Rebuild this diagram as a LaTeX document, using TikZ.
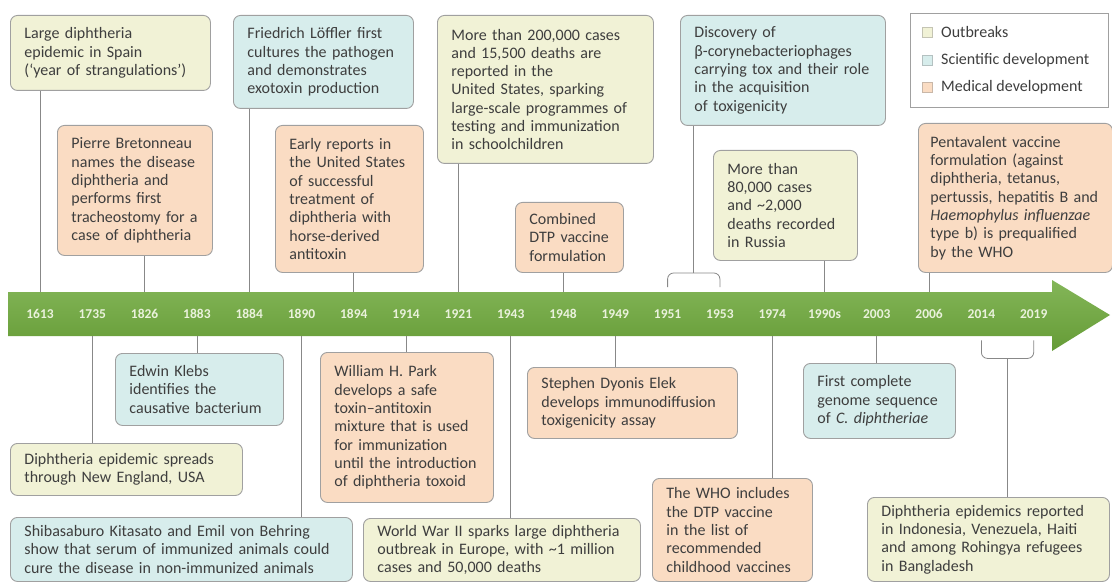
\documentclass[tikz,border=0pt]{standalone}
\usepackage{fontspec}
\setmainfont{Carlito}
\usepackage{xcolor}
\usetikzlibrary{calc}
\definecolor{outfill}{HTML}{F1F2D6}
\definecolor{scifill}{HTML}{D7EDEC}
\definecolor{medfill}{HTML}{FADCC3}
\definecolor{boxline}{HTML}{A0A0A0}
\definecolor{txtgray}{HTML}{3E3E3E}
\definecolor{bargreen}{HTML}{6EA93B}
\definecolor{yeartxt}{HTML}{EAF2DC}
\tikzset{
    event/.style={draw=boxline, line width=0.9pt, rounded corners=7pt, anchor=north west,
        align=left, inner xsep=14pt, inner ysep=3pt, text=txtgray,
        font=\fontsize{16}{18.3}\selectfont},
    outbreak/.style={event, fill=outfill},
    science/.style={event, fill=scifill},
    medical/.style={event, fill=medfill},
    boxsize/.style 2 args={minimum width=#1, minimum height=#2, text width=#1-28},
    link/.style={draw=boxline!85!black, line width=0.8pt},
    yearlbl/.style={text=yeartxt, font=\fontsize{13.5}{15}\selectfont\bfseries,
        minimum height=44, inner sep=0pt, anchor=north}
}
\begin{document}
\begin{tikzpicture}[x=1pt,y=-1pt]
    \useasboundingbox (0,0) rectangle (1112,583);
    \fill[white] (0,0) rectangle (1112,583);
    \shade[top color=bargreen!85!white, bottom color=bargreen!92!black]
        (8,292) -- (1052,292) -- (1052,280) -- (1110,315) -- (1052,351) -- (1052,336) -- (8,336) -- cycle;
    \foreach \yr [count=\i from 0] in {1613,1735,1826,1883,1884,1890,1894,1914,1921,1943,1948,1949,1951,1953,1974,1990s,2003,2006,2014,2019}
        \node[yearlbl] (y\yr) at (40+52.3*\i,292) {\yr};

    \node[outbreak, boxsize={200}{75}] (b1613) at (10,15) {Large diphtheria\\epidemic in Spain\\(‘year of strangulations’)};
    \node[science, boxsize={180}{93}] (b1884) at (233,15) {Friedrich Löffler first\\cultures the pathogen\\and demonstrates\\exotoxin production};
    \node[outbreak, boxsize={216}{148}] (b1921) at (437,15) {More than 200,000 cases\\and 15,500 deaths are\\reported in the\\United States, sparking\\large-scale programmes of\\testing and immunization\\in schoolchildren};
    \node[science, boxsize={205}{110}] (b1951) at (680,15) {Discovery of\\β-corynebacteriophages\\carrying tox and their role\\in the acquisition\\of toxigenicity};
    \node[medical, boxsize={155}{130}] (b1826) at (57,125) {Pierre Bretonneau\\names the disease\\diphtheria and\\performs first\\tracheostomy for a\\case of diphtheria};
    \node[medical, boxsize={148}{147}] (b1894) at (275,125) {Early reports in\\the United States\\of successful\\treatment of\\diphtheria with\\horse-derived\\antitoxin};
    \node[medical, boxsize={108}{70}] (b1948) at (515,202) {Combined\\DTP vaccine\\formulation};
    \node[outbreak, boxsize={144}{110}] (b1990s) at (713,150) {More than\\80,000 cases\\and \textasciitilde2,000\\deaths recorded\\in Russia};
    \node[medical, boxsize={191}{149}, inner xsep=12pt, text width=170] (b2006) at (918,123) {Pentavalent vaccine\\formulation (against\\diphtheria, tetanus,\\pertussis, hepatitis B and\\\textit{Haemophylus influenzae}\\type b) is prequalified\\by the WHO};

    \node[outbreak, boxsize={232}{52}] (b1735) at (10,443) {Diphtheria epidemic spreads\\through New England, USA};
    \node[science, boxsize={168}{72}] (b1883) at (115,353) {Edwin Klebs\\identifies the\\causative bacterium};
    \node[science, boxsize={342}{64}] (b1890) at (10,517) {Shibasaburo Kitasato and Emil von Behring\\show that serum of immunized animals could\\cure the disease in non-immunized animals};
    \node[medical, boxsize={173}{150}] (b1914) at (320,352) {William H. Park\\develops a safe\\toxin–antitoxin\\mixture that is used\\for immunization\\until the introduction\\of diphtheria toxoid};
    \node[outbreak, boxsize={277}{63}] (b1943) at (363,518) {World War II sparks large diphtheria\\outbreak in Europe, with \textasciitilde1 million\\cases and 50,000 deaths};
    \node[medical, boxsize={210}{71}] (b1949) at (527,367) {Stephen Dyonis Elek\\develops immunodiffusion\\toxigenicity assay};
    \node[medical, boxsize={160}{103}] (b1974) at (652,478) {The WHO includes\\the DTP vaccine\\in the list of\\recommended\\childhood vaccines};
    \node[science, boxsize={152}{75}] (b2003) at (803,363) {First complete\\genome sequence\\of \textit{C. diphtheriae}};
    \node[outbreak, boxsize={242}{84}] (b2014) at (867,497) {Diphtheria epidemics reported\\in Indonesia, Venezuela, Haiti\\and among Rohingya refugees\\in Bangladesh};

    \foreach \yr in {1613,1826,1884,1894,1921,1948,1990s,2006}
        \draw[link] (y\yr.north) -- (y\yr.north |- b\yr.south);
    \foreach \yr in {1735,1883,1890,1914,1943,1949,1974,2003}
        \draw[link] (y\yr.south) -- (y\yr.south |- b\yr.north);

    \draw[link, rounded corners=6pt] ($(y1951.north)+(0,-5)$) -- ++(0,-14) -| ($(y1953.north)+(0,-5)$);
    \coordinate (k1951) at ($(y1951.north)!.5!(y1953.north)+(0,-19)$);
    \draw[link] (k1951) -- (k1951 |- b1951.south);
    \draw[link, rounded corners=6pt] ($(y2014.south)+(0,4)$) -- ++(0,18) -| ($(y2019.south)+(0,4)$);
    \coordinate (k2014) at ($(y2014.south)!.5!(y2019.south)+(0,22)$);
    \draw[link] (k2014) -- (k2014 |- b2014.north);

    \node[draw=boxline, line width=0.6pt, anchor=north west, minimum width=198, minimum height=94] (legend) at (910,13) {};
    \foreach \c/\t [count=\i] in {outfill/Outbreaks, scifill/Scientific development, medfill/Medical development} {
        \node[draw=\c!60!gray, fill=\c, minimum size=10, inner sep=0pt] (sq\i) at (927,5+27.5*\i) {};
        \node[anchor=west, inner sep=0pt, text=txtgray, font=\fontsize{16}{18}\selectfont] (lt\i) at (941,5+27.5*\i) {\t};
    }
\end{tikzpicture}
\end{document}
